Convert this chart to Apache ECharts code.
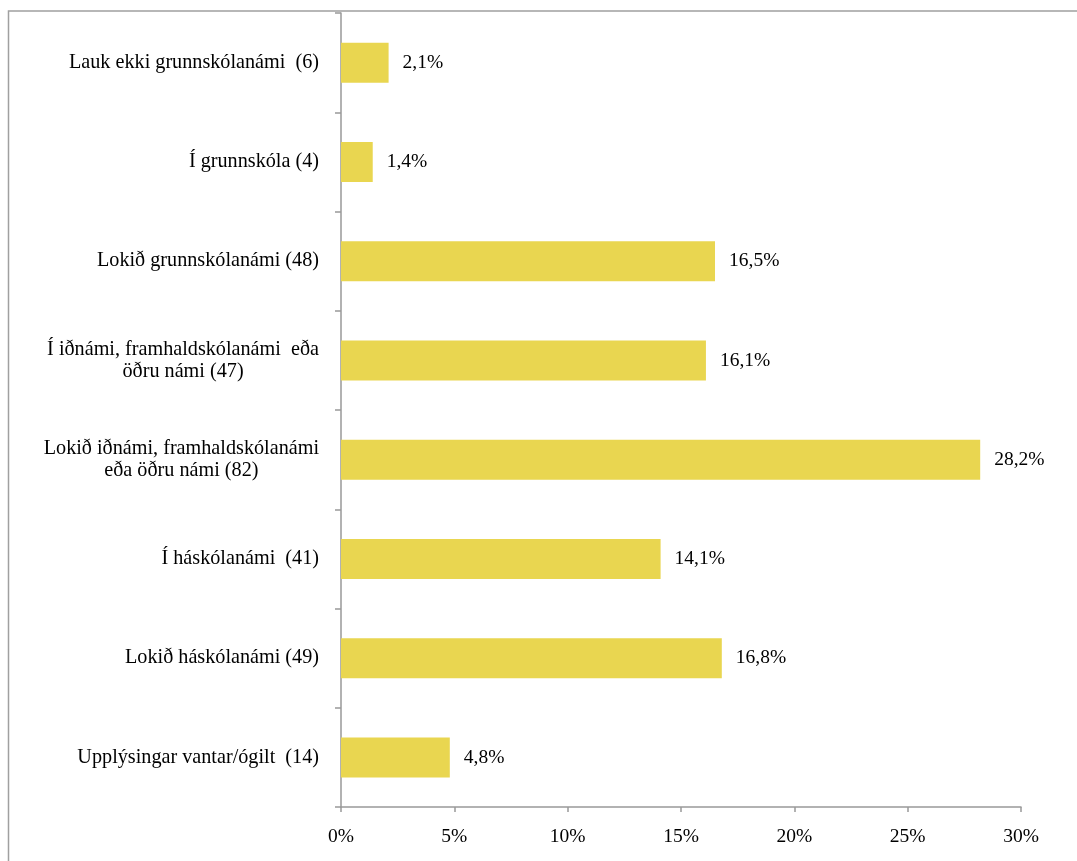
<!DOCTYPE html>
<html><head><meta charset="utf-8">
<script src="https://cdn.jsdelivr.net/npm/echarts@6/dist/echarts.min.js"></script>
<style>html,body{margin:0;padding:0;background:#fff}#c{width:1077px;height:861px}</style>
</head><body><div id="c"></div>
<script>
const categories = [
  ['Lauk ekki grunnskólanámi  (6)'],
  ['Í grunnskóla (4)'],
  ['Lokið grunnskólanámi (48)'],
  ['Í iðnámi, framhaldskólanámi  eða', 'öðru námi (47)'],
  ['Lokið iðnámi, framhaldskólanámi', 'eða öðru námi (82)'],
  ['Í háskólanámi  (41)'],
  ['Lokið háskólanámi (49)'],
  ['Upplýsingar vantar/ógilt  (14)']
];
const values = [2.1, 1.4, 16.5, 16.1, 28.2, 14.1, 16.8, 4.8];
const xTicks = [0, 5, 10, 15, 20, 25, 30];

const font = '"Liberation Serif", "Times New Roman", serif';
const fs = 19.5;
const fsY = 20.2;
const chart = echarts.init(document.getElementById('c'), null, {renderer: 'canvas'});
chart.setOption({
  animation: false,
  backgroundColor: '#fff',
  graphic: [{
    type: 'polyline', silent: true,
    shape: {points: [[8.5, 900], [8.5, 11], [1100, 11]]},
    style: {stroke: '#A0A0A0', lineWidth: 1.5, fill: null}
  }],
  grid: {left: 341, right: 56, top: 13, bottom: 54, containLabel: false},
  xAxis: {
    type: 'value', min: xTicks[0], max: xTicks[xTicks.length - 1], interval: 5,
    splitLine: {show: false},
    axisLine: {show: true, lineStyle: {color: '#999', width: 1.5}},
    axisTick: {show: true, length: 5, lineStyle: {color: '#999', width: 1.5}},
    axisLabel: {margin: 20, color: '#000', fontFamily: font, fontSize: fs, formatter: v => v + '%'}
  },
  yAxis: {
    type: 'category', inverse: true,
    data: categories.map(c => c.join('\n')),
    axisLine: {show: true, lineStyle: {color: '#999', width: 1.5}},
    axisTick: {show: true, length: 6, lineStyle: {color: '#999', width: 1.5}},
    axisLabel: {
      margin: 22, color: '#000', fontFamily: font, fontSize: fsY, lineHeight: 22,
      formatter: v => v.split('\n').map(l => '{c|' + l + '}').join('\n'),
      rich: {c: {align: 'center', fontFamily: font, fontSize: fsY, lineHeight: 22, color: '#000'}}
    }
  },
  series: [{
    type: 'bar', data: values, barWidth: 40,
    itemStyle: {color: '#E9D650'},
    label: {
      show: true, position: 'right', distance: 14, color: '#000',
      fontFamily: font, fontSize: fs,
      formatter: p => p.value.toFixed(1).replace('.', ',') + '%'
    }
  }]
});
</script></body></html>
